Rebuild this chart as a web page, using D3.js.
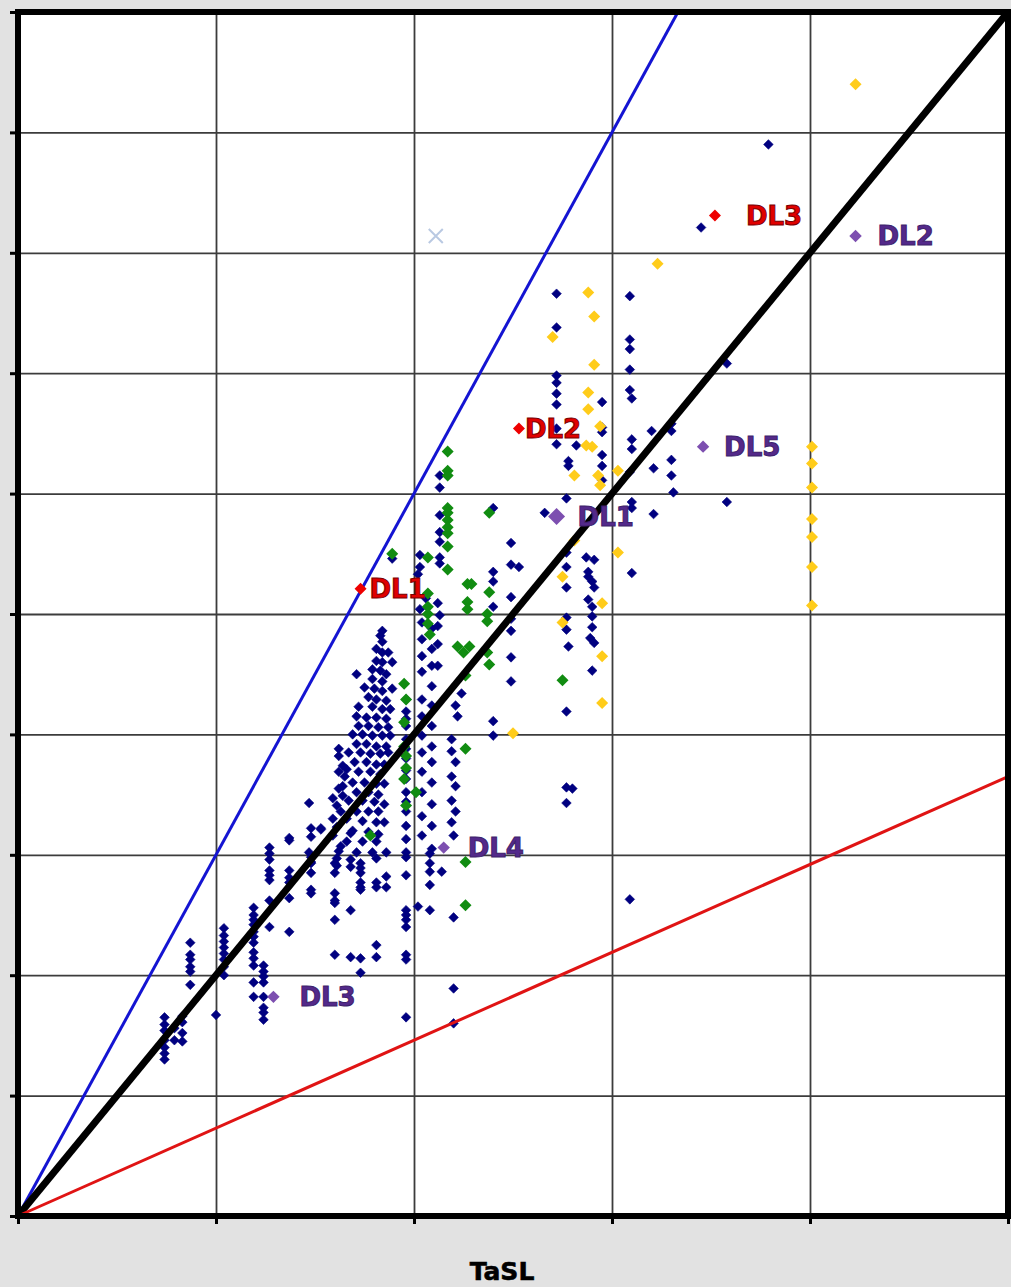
<!DOCTYPE html>
<html>
<head>
<meta charset="utf-8">
<script src="https://cdn.jsdelivr.net/npm/d3@7"></script>
<style>
  html, body { margin: 0; padding: 0; background: #e2e2e2; }
  svg { display: block; }
</style>
</head>
<body>
<svg id="chart" width="1011" height="1287"></svg>
<script>

// axis ticks (no labels are printed on the original)
var xTicks = [0, 1, 2, 3, 4, 5];
var yTicks = [0, 1, 2, 3, 4, 5, 6, 7, 8, 9, 10];
var xTitle = "TaSL";

// reference lines y = k * x
var refSlopes = [3, 2, 0.73];
var refColors = ["#1414d2", "#000000", "#e01414"];
var refWidths = [3, 7, 3];

// main cloud (navy)
var navyPts = [
  [0.74,1.65],[0.74,1.59],[0.74,1.54],[0.74,1.46],[0.74,1.40],[0.74,1.35],[0.74,1.30],
  [0.79,1.56],[0.79,1.46],[0.83,1.66],[0.83,1.61],[0.83,1.52],[0.83,1.45],
  [0.87,2.27],[0.87,2.17],[0.87,2.13],[0.87,2.07],[0.87,2.03],[0.87,1.92],[1.00,1.67],
  [1.04,2.39],[1.04,2.33],[1.04,2.28],[1.04,2.23],[1.04,2.18],[1.04,2.13],[1.04,2.07],[1.04,2.00],
  [1.19,2.56],[1.19,2.50],[1.19,2.46],[1.19,2.42],[1.19,2.36],[1.19,2.32],[1.19,2.27],[1.19,2.19],
  [1.19,2.14],[1.19,2.08],[1.19,1.94],[1.19,1.82],
  [1.24,2.08],[1.24,2.03],[1.24,1.99],[1.24,1.94],[1.24,1.82],[1.24,1.73],[1.24,1.69],[1.24,1.63],
  [1.27,3.06],[1.27,3.01],[1.27,2.96],[1.27,2.87],[1.27,2.83],[1.27,2.79],[1.27,2.62],[1.27,2.40],
  [1.37,3.12],[1.37,2.87],[1.37,2.81],[1.37,2.77],[1.37,2.64],[1.37,2.36],
  [1.48,3.15],[1.48,2.98],[1.48,2.93],[1.48,2.85],[1.48,2.71],[1.48,2.68],[1.53,3.21],
  [1.60,2.93],[1.60,2.85],[1.60,2.68],[1.60,2.62],[1.60,2.60],[1.60,2.46],[1.60,2.17],
  [1.68,3.18],[1.68,2.96],[1.68,2.90],[1.68,2.54],[1.68,2.15],
  [1.73,2.93],[1.73,2.89],[1.73,2.85],[1.73,2.77],[1.73,2.73],[1.73,2.71],[1.73,2.14],[1.73,2.02],
  [1.81,2.97],[1.81,2.77],[1.81,2.73],[1.81,2.25],[1.81,2.15],[1.86,2.82],[1.86,2.73],
  [1.96,2.98],[1.96,2.83],[1.96,2.54],[1.96,2.50],[1.96,2.46],[1.96,2.40],[1.96,2.17],[1.96,2.13],[1.96,1.65],
  [2.02,2.57],[2.08,3.01],[2.08,2.93],[2.08,2.86],[2.08,2.75],[2.08,2.54],[2.14,2.86],
  [2.20,3.16],[2.20,2.48],[2.20,1.89],[2.20,1.60],[3.09,2.63],
  [1.83,4.82],[1.84,4.77],[1.81,4.71],[1.84,4.68],[1.87,4.68],[1.81,4.61],[1.84,4.60],[1.89,4.60],
  [1.79,4.54],[1.83,4.53],[1.86,4.50],[1.71,4.50],[1.79,4.46],[1.84,4.44],[1.75,4.39],[1.80,4.38],
  [1.84,4.36],[1.89,4.38],[1.77,4.31],[1.81,4.29],[1.86,4.28],[1.72,4.23],[1.79,4.23],[1.84,4.21],
  [1.88,4.21],[1.71,4.15],[1.76,4.14],[1.81,4.14],[1.86,4.13],[1.72,4.07],[1.77,4.07],[1.82,4.06],
  [1.87,4.06],[1.69,4.00],[1.74,4.00],[1.79,3.99],[1.84,3.99],[1.88,3.99],[1.71,3.92],[1.76,3.92],
  [1.81,3.90],[1.86,3.90],[1.67,3.85],[1.73,3.85],[1.78,3.84],[1.83,3.84],[1.87,3.85],[1.62,3.82],
  [1.64,3.74],[1.70,3.77],[1.76,3.77],[1.81,3.75],[1.85,3.75],[1.72,3.69],[1.78,3.69],[1.83,3.67],
  [1.65,3.65],[1.69,3.60],[1.75,3.60],[1.81,3.59],[1.85,3.59],[1.62,3.55],[1.71,3.52],[1.77,3.52],
  [1.82,3.50],[1.67,3.45],[1.74,3.45],[1.80,3.44],[1.85,3.42],[1.61,3.41],[1.71,3.36],[1.77,3.36],
  [1.82,3.36],[1.66,3.30],[1.74,3.28],[1.81,3.27],[1.85,3.27],[1.61,3.23],[1.69,3.20],[1.77,3.19],
  [1.82,3.17],[1.66,3.11],[1.74,3.11],[1.81,3.11],[1.62,3.03],[1.71,3.02],[1.79,3.02],[1.86,3.02],
  [1.62,3.88],[1.62,3.69],[1.47,3.43],[1.59,3.47],[1.63,3.36],[1.59,3.30],[1.53,3.22],[1.48,3.22],
  [1.37,3.14],[1.47,3.02],[1.48,2.94],[1.59,3.16],[1.63,3.07],[1.61,2.97],[1.61,2.91],[1.64,3.57],
  [1.64,3.49],[1.66,3.71],[1.84,4.86],[1.89,5.46],
  [1.96,4.29],[1.96,4.19],[1.96,4.13],[1.96,4.07],[1.96,3.96],[1.96,3.88],[1.96,3.80],[1.96,3.70],
  [1.96,3.63],[1.96,3.52],[1.96,3.44],[1.96,3.36],[1.96,3.24],[1.96,3.13],[1.96,3.02],
  [2.04,4.93],[2.04,4.79],[2.04,4.65],[2.04,4.52],[2.04,4.29],[2.04,4.15],[2.04,3.99],[2.04,3.85],
  [2.04,3.69],[2.04,3.52],[2.04,3.32],[2.04,3.16],
  [2.09,4.88],[2.09,4.71],[2.09,4.57],[2.09,4.40],[2.09,4.24],[2.09,4.07],[2.09,3.90],[2.09,3.77],
  [2.09,3.60],[2.09,3.42],[2.09,3.24],[2.09,3.05],
  [2.03,5.49],[2.03,5.39],[2.02,5.33],[2.06,5.13],[2.03,5.04],
  [2.12,5.09],[2.13,4.99],[2.12,4.90],[2.12,4.75],[2.12,4.57],
  [2.13,6.15],[2.13,6.05],[2.13,5.82],[2.13,5.68],[2.13,5.60],[2.13,5.47],[2.13,5.42],
  [2.24,4.34],[2.21,4.24],[2.22,4.15],[2.19,3.96],[2.19,3.86],[2.21,3.77],[2.19,3.65],[2.21,3.57],
  [2.19,3.45],[2.21,3.36],[2.19,3.27],[2.40,4.11],[2.40,3.99],
  [2.49,5.59],[2.49,5.41],[2.49,5.14],[2.49,4.96],[2.49,4.86],[2.49,4.64],[2.49,4.44],[2.53,5.39],
  [2.77,5.96],[2.66,5.84],[3.10,5.93],[3.10,5.88],[3.21,5.83],[3.58,5.93],[3.31,6.01],[2.77,5.51],
  [2.87,5.47],[2.91,5.45],[2.77,5.39],[2.88,5.35],[2.88,5.31],[2.90,5.27],[2.91,5.22],[2.77,5.22],
  [3.10,5.34],[2.40,5.35],[2.40,5.27],[2.40,5.06],[2.88,5.12],[2.90,5.06],[2.90,4.98],[2.77,4.97],
  [2.90,4.89],[2.77,4.87],[2.89,4.80],[2.91,4.76],[2.78,4.73],[2.90,4.53],[2.77,4.19],[2.77,3.56],
  [2.80,3.55],[2.77,3.43],[2.40,5.88],
  [2.72,6.74],[2.72,6.41],[2.78,6.27],[2.78,6.23],[2.82,6.40],[2.95,6.76],[2.95,6.55],[2.95,6.51],
  [2.95,6.32],[2.95,6.23],[2.95,6.11],[3.10,6.79],[3.10,6.45],[3.10,6.37],[3.21,6.21],
  [3.79,8.90],[3.45,8.21],[2.72,7.66],[2.72,7.38],[2.72,6.98],[2.72,6.92],[2.72,6.83],[2.72,6.54],
  [3.09,7.64],[3.09,7.28],[3.09,7.20],[3.09,7.03],[3.09,6.86],[3.09,6.18],[3.20,6.52],[3.30,6.58],
  [3.30,6.52],[3.30,6.28],[3.30,6.15],[3.58,7.08]
];

var greenPts = [
  [1.89,5.50],[2.07,5.47],[2.07,5.17],[2.07,5.06],[2.07,5.00],[2.07,4.92],[2.08,4.83],
  [2.17,6.35],[2.17,6.19],[2.17,6.15],[2.17,5.88],[2.17,5.84],[2.17,5.78],[2.17,5.72],[2.17,5.67],
  [2.17,5.56],[2.17,5.37],[2.38,5.84],[2.27,5.25],[2.29,5.25],[2.38,5.18],[2.27,5.10],[2.27,5.04],
  [2.37,5.00],[2.37,4.94],[2.22,4.73],[2.28,4.73],[2.25,4.68],[2.37,4.68],[2.38,4.58],[2.26,4.49],
  [1.95,4.42],[1.96,4.29],[1.95,4.10],[1.95,3.90],[1.96,3.82],[1.96,3.72],[1.95,3.63],[2.01,3.52],
  [1.96,3.41],[1.78,3.16],[2.26,3.88],[2.75,4.45],[2.26,2.94],[2.26,2.58]
];

var yellowPts = [
  [4.23,9.40],[3.23,7.91],[2.88,7.67],[2.91,7.47],[2.70,7.30],[2.91,7.07],[2.88,6.84],[2.88,6.70],
  [2.94,6.56],[2.87,6.40],[2.90,6.39],[2.81,6.15],[2.93,6.15],[2.94,6.07],[3.03,6.19],[2.81,5.61],
  [3.03,5.51],[2.75,5.31],[2.95,5.09],[2.75,4.93],[2.95,4.65],[2.95,4.26],[2.50,4.01],
  [4.01,6.39],[4.01,6.25],[4.01,6.05],[4.01,5.79],[4.01,5.64],[4.01,5.39],[4.01,5.07]
];

// labelled points
var redNames = ["DL1", "DL2", "DL3"];
var redX = [1.73, 2.53, 3.52];
var redY = [5.21, 6.54, 8.31];

var purpleNames = ["DL1", "DL2", "DL3", "DL4", "DL5"];
var purpleX = [2.72, 4.23, 1.29, 2.15, 3.46];
var purpleY = [5.81, 8.14, 1.82, 3.06, 6.39];

var crossPt = [2.11, 8.14];

// label offsets (px)
var redDx = [9, 6, 31];
var purpleDx = [21, 22, 26, 24, 21];

var svg = d3.select("#chart"),
    margin = { top: 12, right: 3, bottom: 71, left: 18 },
    width = +svg.attr("width") - margin.left - margin.right,
    height = +svg.attr("height") - margin.top - margin.bottom,
    g = svg.append("g").attr("transform", "translate(" + margin.left + "," + margin.top + ")");

var x = d3.scaleLinear().domain([0, 5]).range([0, width]);
var y = d3.scaleLinear().domain([0, 10]).range([height, 0]);

function diamond(r) {
    return "M0," + (-r) + "L" + r + ",0L0," + r + "L" + (-r) + ",0Z";
}

g.append("rect").attr("width", width).attr("height", height).attr("fill", "#fff");

// grid
var gx = g.append("g")
    .attr("transform", "translate(0," + height + ")")
    .call(d3.axisBottom(x).tickValues(xTicks).tickSize(-height).tickFormat(""));
var gy = g.append("g")
    .call(d3.axisLeft(y).tickValues(yTicks).tickSize(-width).tickFormat(""));
[gx, gy].forEach(function (a) {
    a.select(".domain").remove();
    a.selectAll("line").attr("stroke", "#3c3c3c").attr("stroke-width", 1.8);
});

// outer ticks
var tx = g.append("g")
    .attr("transform", "translate(0," + height + ")")
    .call(d3.axisBottom(x).tickValues(xTicks).tickSize(8).tickFormat(""));
var ty = g.append("g")
    .call(d3.axisLeft(y).tickValues(yTicks).tickSize(8).tickFormat(""));
[tx, ty].forEach(function (a) {
    a.select(".domain").remove();
    a.selectAll("line").attr("stroke", "#000").attr("stroke-width", 3);
});

// scatter
g.append("g").selectAll("path")
    .data(navyPts).enter().append("path")
    .attr("transform", function (d) { return "translate(" + x(d[0]) + "," + y(d[1]) + ")"; })
    .attr("d", diamond(4.8))
    .attr("fill", "#000080")
    .attr("stroke", "#000080").attr("stroke-width", 0.6).attr("stroke-linejoin", "round");

g.append("g").selectAll("path")
    .data(greenPts).enter().append("path")
    .attr("transform", function (d) { return "translate(" + x(d[0]) + "," + y(d[1]) + ")"; })
    .attr("d", diamond(6))
    .attr("fill", "#118c11");

g.append("g").selectAll("path")
    .data(yellowPts).enter().append("path")
    .attr("transform", function (d) { return "translate(" + x(d[0]) + "," + y(d[1]) + ")"; })
    .attr("d", diamond(6))
    .attr("fill", "#ffcc1a");

// reference lines, clipped to the plot
var xMax = x.domain()[1], yMax = y.domain()[1];
g.append("g").selectAll("line")
    .data(refSlopes).enter().append("line")
    .attr("x1", x(0)).attr("y1", y(0))
    .attr("x2", function (k) { return x(Math.min(xMax, yMax / k)); })
    .attr("y2", function (k) { return y(Math.min(xMax, yMax / k) * k); })
    .attr("stroke", function (k, i) { return refColors[i]; })
    .attr("stroke-width", function (k, i) { return refWidths[i]; });

// cross marker
g.append("path")
    .attr("transform", "translate(" + x(crossPt[0]) + "," + y(crossPt[1]) + ")")
    .attr("d", "M-7,-7L7,7M-7,7L7,-7")
    .attr("stroke", "#b9c9e2").attr("stroke-width", 2);

// labelled markers
var purple = g.append("g").selectAll("g")
    .data(purpleNames).enter().append("g")
    .attr("transform", function (d, i) { return "translate(" + x(purpleX[i]) + "," + y(purpleY[i]) + ")"; });
purple.append("path")
    .attr("d", function (d, i) { return diamond(i === 0 ? 8.5 : 6.2); })
    .attr("fill", "#7d4fb0");
purple.append("text")
    .attr("x", function (d, i) { return purpleDx[i]; })
    .attr("dy", "0.36em")
    .attr("font-family", "DejaVu Sans, sans-serif")
    .attr("font-weight", "bold")
    .attr("font-size", 26)
    .attr("fill", "#53298a")
    .attr("stroke", "#3f1f6b").attr("stroke-width", 1)
    .text(function (d) { return d; });

var red = g.append("g").selectAll("g")
    .data(redNames).enter().append("g")
    .attr("transform", function (d, i) { return "translate(" + x(redX[i]) + "," + y(redY[i]) + ")"; });
red.append("path")
    .attr("d", diamond(6))
    .attr("fill", "#ee0000");
red.append("text")
    .attr("x", function (d, i) { return redDx[i]; })
    .attr("dy", "0.36em")
    .attr("font-family", "DejaVu Sans, sans-serif")
    .attr("font-weight", "bold")
    .attr("font-size", 26)
    .attr("fill", "#e00000")
    .attr("stroke", "#7a0000").attr("stroke-width", 1)
    .text(function (d) { return d; });

// frame
g.append("rect")
    .attr("width", width).attr("height", height)
    .attr("fill", "none").attr("stroke", "#000").attr("stroke-width", 6);

// x title
svg.append("text")
    .attr("x", 502).attr("y", 1280)
    .attr("text-anchor", "middle")
    .attr("font-family", "DejaVu Sans, sans-serif")
    .attr("font-weight", "bold")
    .attr("font-size", 25)
    .attr("fill", "#000")
    .attr("stroke", "#000").attr("stroke-width", 0.6)
    .text(xTitle);

</script>
</body>
</html>
